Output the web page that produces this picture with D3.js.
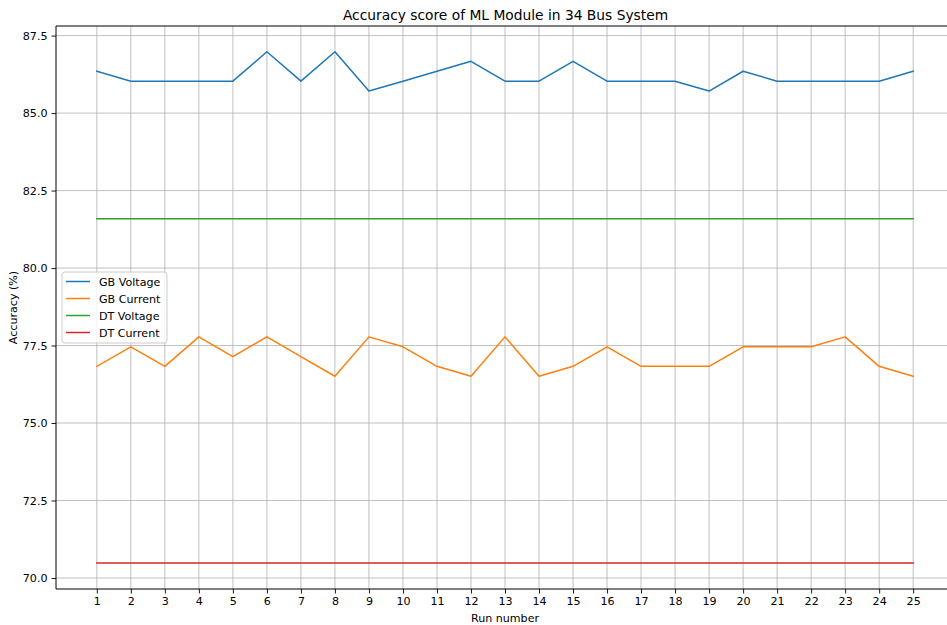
<!DOCTYPE html>
<html>
<head>
<meta charset="utf-8">
<script src="https://cdn.jsdelivr.net/npm/d3@7"></script>
<style>
  body { margin: 0; background: #fff; }
  svg { display: block; font-family: "DejaVu Sans", sans-serif; }
</style>
</head>
<body>
<svg id="chart" width="947" height="625"></svg>
<script>
// Run numbers on the x axis
const runs = d3.range(1, 26);

// Accuracy (%) per run for each model / measurement
const gbVoltage = [86.35, 86.03, 86.03, 86.03, 86.03, 86.98, 86.03, 86.98, 85.71, 86.03,
                   86.35, 86.67, 86.03, 86.03, 86.67, 86.03, 86.03, 86.03, 85.71, 86.35,
                   86.03, 86.03, 86.03, 86.03, 86.35];
const gbCurrent = [76.83, 77.46, 76.83, 77.78, 77.14, 77.78, 77.14, 76.51, 77.78, 77.46,
                   76.83, 76.51, 77.78, 76.51, 76.83, 77.46, 76.83, 76.83, 76.83, 77.46,
                   77.46, 77.46, 77.78, 76.83, 76.51];
const dtVoltage = runs.map(() => 81.59);
const dtCurrent = runs.map(() => 70.48);

const seriesNames = ["GB Voltage", "GB Current", "DT Voltage", "DT Current"];
const seriesColors = ["#1f77b4", "#ff7f0e", "#2ca02c", "#d62728"];
const seriesValues = [gbVoltage, gbCurrent, dtVoltage, dtCurrent];

const yTicks = [70.0, 72.5, 75.0, 77.5, 80.0, 82.5, 85.0, 87.5];

const svg = d3.select("#chart");
const plotLeft = 56, plotRight = 954, plotTop = 26, plotBottom = 589;

const x = d3.scaleLinear().domain([-0.2, 26.2]).range([plotLeft, plotRight]);
const y = d3.scaleLinear().domain([69.645, 87.81]).range([plotBottom, plotTop]);

// Grid lines
const grid = svg.append("g").attr("stroke", "#b0b0b0").attr("stroke-width", 0.8);
grid.selectAll("line.v").data(runs).join("line").attr("class", "v")
  .attr("x1", d => x(d)).attr("x2", d => x(d))
  .attr("y1", plotTop).attr("y2", plotBottom);
grid.selectAll("line.h").data(yTicks).join("line").attr("class", "h")
  .attr("x1", plotLeft).attr("x2", plotRight)
  .attr("y1", d => y(d)).attr("y2", d => y(d));

// Series lines
const line = d3.line().x((d, i) => x(runs[i])).y(d => y(d));
svg.append("g").selectAll("path").data(seriesValues).join("path")
  .attr("d", line)
  .attr("fill", "none")
  .attr("stroke", (d, i) => seriesColors[i])
  .attr("stroke-width", 1.5)
  .attr("stroke-linejoin", "round")
  .attr("stroke-linecap", "square");

// Axes
const xAxis = svg.append("g").attr("transform", `translate(0,${plotBottom})`)
  .call(d3.axisBottom(x).tickValues(runs).tickFormat(d3.format("d")).tickSize(4.5).tickPadding(4));
const yAxis = svg.append("g").attr("transform", `translate(${plotLeft},0)`)
  .call(d3.axisLeft(y).tickValues(yTicks).tickFormat(d3.format(".1f")).tickSize(4.5).tickPadding(4));
[xAxis, yAxis].forEach(g => {
  g.select(".domain").remove();
  g.selectAll("text").attr("font-size", 11.1).attr("fill", "#000").attr("font-family", "DejaVu Sans");
  g.selectAll("line").attr("stroke", "#000").attr("stroke-width", 0.9);
});

// Spines
const spines = svg.append("g").attr("stroke", "#000").attr("stroke-width", 1);
spines.append("line").attr("x1", plotLeft).attr("x2", plotLeft).attr("y1", plotTop).attr("y2", plotBottom);
spines.append("line").attr("x1", plotLeft).attr("x2", plotRight).attr("y1", plotBottom).attr("y2", plotBottom);
spines.append("line").attr("x1", plotLeft).attr("x2", plotRight).attr("y1", plotTop).attr("y2", plotTop);
spines.append("line").attr("x1", plotRight).attr("x2", plotRight).attr("y1", plotTop).attr("y2", plotBottom);

// Title and axis labels
const cx = (plotLeft + plotRight) / 2;
svg.append("text").attr("x", cx + 0.5).attr("y", 20).attr("text-anchor", "middle")
  .attr("font-size", 13.8).text("Accuracy score of ML Module in 34 Bus System");
svg.append("text").attr("x", cx).attr("y", 622).attr("text-anchor", "middle")
  .attr("font-size", 11.1).text("Run number");
svg.append("text").attr("transform", `translate(17,${(plotTop + plotBottom) / 2}) rotate(-90)`)
  .attr("text-anchor", "middle").attr("font-size", 11.1).text("Accuracy (%)");

// Legend
const legend = svg.append("g").attr("transform", "translate(62,272)");
legend.append("rect").attr("width", 105).attr("height", 71).attr("rx", 3)
  .attr("fill", "#fff").attr("fill-opacity", 0.8).attr("stroke", "#ccc").attr("stroke-width", 1);
seriesNames.forEach((name, i) => {
  const yy = 9.5 + i * 17;
  legend.append("line").attr("x1", 4).attr("x2", 28).attr("y1", yy).attr("y2", yy)
    .attr("stroke", seriesColors[i]).attr("stroke-width", 1.5);
  legend.append("text").attr("x", 37).attr("y", yy + 4).attr("font-size", 11.1).text(name);
});
</script>
</body>
</html>
